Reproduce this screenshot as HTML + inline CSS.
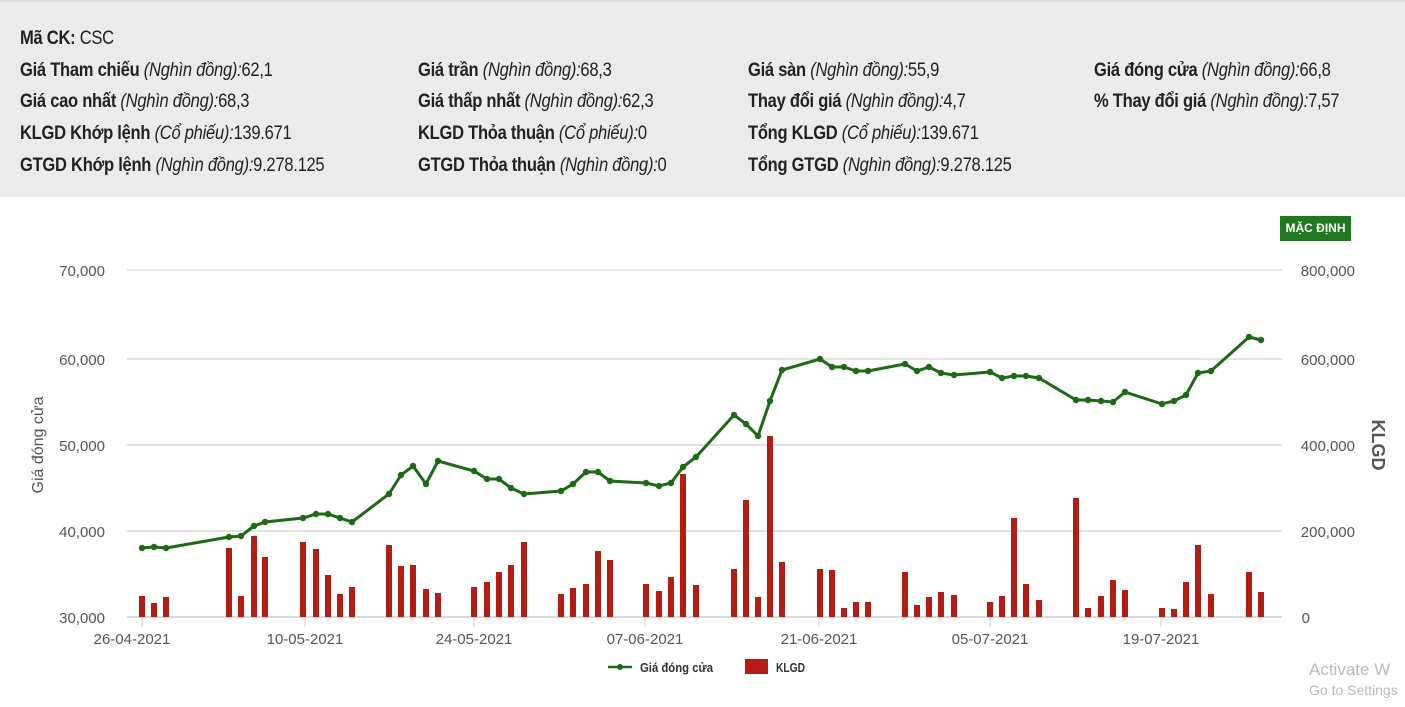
<!DOCTYPE html>
<html><head><meta charset="utf-8"><style>
body{margin:0;width:1405px;height:707px;overflow:hidden;background:#fff;font-family:"Liberation Sans",sans-serif;}
#hd{position:absolute;left:0;top:0;width:1405px;height:197px;background:#ebebeb;border-top:2px solid #d8d8d8;box-sizing:border-box;}
.t{position:absolute;font-size:19px;color:#222;white-space:nowrap;font-weight:bold;letter-spacing:-0.3px;transform:scaleX(0.87);transform-origin:0 0}
.t i{font-weight:normal}
.t span{font-weight:normal}
</style></head><body>
<div id="hd">
<div class="t" style="left:20px;top:26px">Mã CK: <span>CSC</span></div>
<div class="t" style="left:20px;top:58px">Giá Tham chiếu <i>(Nghìn đồng):</i><span>62,1</span></div>
<div class="t" style="left:418px;top:58px">Giá trần <i>(Nghìn đồng):</i><span>68,3</span></div>
<div class="t" style="left:748px;top:58px">Giá sàn <i>(Nghìn đồng):</i><span>55,9</span></div>
<div class="t" style="left:1094px;top:58px">Giá đóng cửa <i>(Nghìn đồng):</i><span>66,8</span></div>
<div class="t" style="left:20px;top:89px">Giá cao nhất <i>(Nghìn đồng):</i><span>68,3</span></div>
<div class="t" style="left:418px;top:89px">Giá thấp nhất <i>(Nghìn đồng):</i><span>62,3</span></div>
<div class="t" style="left:748px;top:89px">Thay đổi giá <i>(Nghìn đồng):</i><span>4,7</span></div>
<div class="t" style="left:1094px;top:89px">% Thay đổi giá <i>(Nghìn đồng):</i><span>7,57</span></div>
<div class="t" style="left:20px;top:121px">KLGD Khớp lệnh <i>(Cổ phiếu):</i><span>139.671</span></div>
<div class="t" style="left:418px;top:121px">KLGD Thỏa thuận <i>(Cổ phiếu):</i><span>0</span></div>
<div class="t" style="left:748px;top:121px">Tổng KLGD <i>(Cổ phiếu):</i><span>139.671</span></div>
<div class="t" style="left:20px;top:153px">GTGD Khớp lệnh <i>(Nghìn đồng):</i><span>9.278.125</span></div>
<div class="t" style="left:418px;top:153px">GTGD Thỏa thuận <i>(Nghìn đồng):</i><span>0</span></div>
<div class="t" style="left:748px;top:153px">Tổng GTGD <i>(Nghìn đồng):</i><span>9.278.125</span></div>
</div>
<div style="position:absolute;left:1280px;top:216px;width:71px;height:25px;background:#1f7a1f;color:#fff;font-size:12px;font-weight:bold;line-height:25px;text-align:center">MẶC ĐỊNH</div>
<svg width="1405" height="707" style="position:absolute;left:0;top:0" font-family="Liberation Sans, sans-serif">
<g stroke="#d8d8d8" stroke-width="1.5">
<line x1="127" y1="270" x2="1282" y2="270"/><line x1="127" y1="359" x2="1282" y2="359"/><line x1="127" y1="445" x2="1282" y2="445"/><line x1="127" y1="531" x2="1282" y2="531"/>
</g>
<line x1="127" y1="617" x2="1282" y2="617" stroke="#c0d0e0" stroke-width="1.5"/>
<g stroke="#c0d0e0"><line x1="142" y1="617" x2="142" y2="627"/><line x1="305" y1="617" x2="305" y2="627"/><line x1="474" y1="617" x2="474" y2="627"/><line x1="645" y1="617" x2="645" y2="627"/><line x1="819" y1="617" x2="819" y2="627"/><line x1="990" y1="617" x2="990" y2="627"/><line x1="1161" y1="617" x2="1161" y2="627"/></g>
<g font-size="15" fill="#555" text-anchor="end">
<text x="105" y="276">70,000</text><text x="105" y="365">60,000</text><text x="105" y="451">50,000</text><text x="105" y="537">40,000</text><text x="105" y="623">30,000</text>
</g>
<g font-size="15" fill="#555" text-anchor="end">
<text x="1355" y="276">800,000</text><text x="1355" y="365">600,000</text><text x="1355" y="451">400,000</text><text x="1355" y="537">200,000</text><text x="1310" y="623">0</text>
</g>
<g font-size="15" fill="#555" text-anchor="middle">
<text x="132" y="644">26-04-2021</text><text x="305" y="644">10-05-2021</text><text x="474" y="644">24-05-2021</text><text x="645" y="644">07-06-2021</text><text x="819" y="644">21-06-2021</text><text x="990" y="644">05-07-2021</text><text x="1161" y="644">19-07-2021</text>
</g>
<text transform="translate(43,445) rotate(-90)" font-size="16" fill="#555" text-anchor="middle">Giá đóng cửa</text>
<text transform="translate(1372,445) rotate(90)" font-size="18" font-weight="bold" fill="#555" text-anchor="middle">KLGD</text>
<g fill="#b71c12" id="bars"></g>
<polyline id="ln" fill="none" stroke="#1b6b12" stroke-width="3" points=""/>
<g fill="#1b6b12" id="dots"></g>
<line x1="608" y1="667" x2="632" y2="667" stroke="#1b6b12" stroke-width="2.5"/><circle cx="620" cy="667" r="3" fill="#1b6b12"/>
<text x="640" y="672" font-size="13" font-weight="bold" fill="#333" textLength="73" lengthAdjust="spacingAndGlyphs">Giá đóng cửa</text>
<rect x="745" y="659" width="23" height="15" fill="#b71c12"/>
<text x="776" y="672" font-size="13" font-weight="bold" fill="#333" textLength="29" lengthAdjust="spacingAndGlyphs">KLGD</text>
<text x="1309" y="675" font-size="17" fill="#bbb">Activate W</text>
<text x="1309" y="695" font-size="14" fill="#bbb">Go to Settings</text>
</svg>
<script>
var P=[[142,548,596],[154,547,603],[166,548,597],[229,537,548],[241,536,596],[254,526,536],[265,522,557],[303,518,542],[316,514,549],[328,514,575],[340,518,594],[352,522,587],[389,494,545],[401,475,566],[413,466,565],[426,484,589],[438,461,593],[474,471,587],[487,479,582],[499,479,572],[511,488,565],[524,494,542],[561,491,594],[573,484,588],[586,472,584],[598,472,551],[610,481,560],[646,483,584],[659,486,591],[671,483,577],[683,467,474],[696,457,585],[734,415,569],[746,424,500],[758,436,597],[770,401,436],[782,370,562],[820,359,569],[832,367,570],[844,367,608],[856,371,602],[868,371,602],[905,364,572],[917,371,605],[929,367,597],[941,373,592],[954,375,595],[990,372,602],[1002,378,596],[1014,376,518],[1026,376,584],[1039,378,600],[1076,400,498],[1088,400,608],[1101,401,596],[1113,402,580],[1125,392,590],[1162,404,608],[1174,401,609],[1186,395,582],[1198,373,545],[1211,371,594],[1249,337,572],[1261,340,592]];
var ns="http://www.w3.org/2000/svg",b=document.getElementById('bars'),d=document.getElementById('dots'),pts=[];
P.forEach(function(p){var r=document.createElementNS(ns,'rect');r.setAttribute('x',p[0]-3);r.setAttribute('y',p[2]);r.setAttribute('width',6);r.setAttribute('height',617-p[2]);b.appendChild(r);
var c=document.createElementNS(ns,'circle');c.setAttribute('cx',p[0]);c.setAttribute('cy',p[1]);c.setAttribute('r',3.2);d.appendChild(c);pts.push(p[0]+','+p[1]);});
document.getElementById('ln').setAttribute('points',pts.join(' '));
</script>
</body></html>
